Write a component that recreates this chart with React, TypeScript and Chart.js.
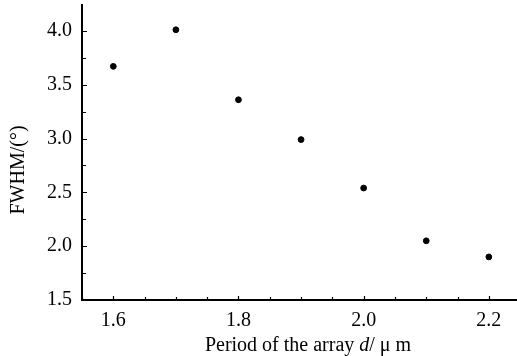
import React, { useEffect, useRef } from "react";
import { Chart, registerables } from "chart.js";

Chart.register(...registerables);

const periods = [1.6, 1.7, 1.8, 1.9, 2.0, 2.1, 2.2];
const fwhm = [3.67, 4.01, 3.36, 2.99, 2.54, 2.05, 1.9];
const xLabelTicks = [1.6, 1.8, 2.0, 2.2];
const yLabelTicks = [1.5, 2.0, 2.5, 3.0, 3.5, 4.0];
const xMinorStep = 0.05;
const yMinorStep = 0.25;
const xRange = [1.55, 2.245];
const yRange = [1.5, 4.24];
const yTitle = "FWHM/(°)";
const xTitleParts = [
  { text: "Period of the array ", italic: false },
  { text: "d", italic: true },
  { text: "/ μ m", italic: false },
];

const FONT = '"Liberation Serif", "Times New Roman", serif';

function isLabel(v: number, list: number[]) {
  return list.some((l) => Math.abs(l - v) < 1e-6);
}

function stepTicks(min: number, max: number, step: number) {
  const out: { value: number }[] = [];
  const start = Math.ceil(min / step - 1e-6);
  const end = Math.floor(max / step + 1e-6);
  for (let i = start; i <= end; i++) out.push({ value: Math.round(i * step * 1000) / 1000 });
  return out;
}

const tickPlugin = {
  id: "inwardTicks",
  afterDatasetsDraw(chart: any) {
    const { ctx, chartArea, scales } = chart;
    ctx.save();
    ctx.strokeStyle = "#000";
    ctx.lineWidth = 1.2;
    ctx.beginPath();
    for (const t of scales.x.ticks) {
      const px = Math.round(scales.x.getPixelForValue(t.value)) + 0.5;
      const len = isLabel(t.value, xLabelTicks) ? 4 : 3;
      ctx.moveTo(px, chartArea.bottom);
      ctx.lineTo(px, chartArea.bottom - len);
    }
    for (const t of scales.y.ticks) {
      const py = Math.round(scales.y.getPixelForValue(t.value)) + 0.5;
      const len = isLabel(t.value, yLabelTicks) ? 5 : 4;
      ctx.moveTo(chartArea.left, py);
      ctx.lineTo(chartArea.left + len, py);
    }
    ctx.stroke();

    // y title
    ctx.fillStyle = "#000";
    ctx.font = `20px ${FONT}`;
    ctx.textAlign = "center";
    ctx.textBaseline = "middle";
    ctx.save();
    ctx.translate(19, 170);
    ctx.rotate(-Math.PI / 2);
    ctx.fillText(yTitle, 0, 0);
    ctx.restore();

    // x title with italic part
    ctx.textAlign = "left";
    ctx.textBaseline = "alphabetic";
    let total = 0;
    const widths = xTitleParts.map((p) => {
      ctx.font = `${p.italic ? "italic " : ""}20px ${FONT}`;
      const w = ctx.measureText(p.text).width;
      total += w;
      return w;
    });
    let x = 308 - total / 2;
    xTitleParts.forEach((p, i) => {
      ctx.font = `${p.italic ? "italic " : ""}20px ${FONT}`;
      ctx.fillText(p.text, x, 351);
      x += widths[i];
    });
    ctx.restore();
  },
};

export default function App() {
  const ref = useRef<HTMLCanvasElement | null>(null);
  useEffect(() => {
    if (!ref.current) return;
    const chart = new Chart(ref.current, {
      type: "scatter",
      data: {
        datasets: [
          {
            data: periods.map((p, i) => ({ x: p, y: fwhm[i] })),
            backgroundColor: "#000",
            borderColor: "#000",
            pointRadius: 2.9,
            pointStyle: "circle",
          },
        ],
      },
      options: {
        animation: false,
        responsive: false,
        maintainAspectRatio: false,
        layout: { autoPadding: false, padding: { top: 5, right: 0, left: 0, bottom: 0 } },
        plugins: { legend: { display: false }, tooltip: { enabled: false } },
        scales: {
          x: {
            type: "linear",
            min: xRange[0],
            max: xRange[1],
            afterBuildTicks: (s: any) => {
              s.ticks = stepTicks(xRange[0], xRange[1], xMinorStep);
            },
            afterFit: (s: any) => {
              s.height = 56;
              s.paddingLeft = 0;
              s.paddingRight = 0;
            },
            grid: { display: false },
            border: { display: true, color: "#000", width: 2 },
            ticks: {
              autoSkip: false,
              maxRotation: 0,
              padding: 1,
              color: "#000",
              font: { family: FONT, size: 20 },
              callback: (v: any) => (isLabel(Number(v), xLabelTicks) ? Number(v).toFixed(1) : ""),
            },
          },
          y: {
            type: "linear",
            min: yRange[0],
            max: yRange[1],
            afterBuildTicks: (s: any) => {
              s.ticks = stepTicks(yRange[0], yRange[1], yMinorStep);
            },
            afterFit: (s: any) => {
              s.width = 82;
              s.paddingTop = 0;
              s.paddingBottom = 0;
            },
            grid: { display: false },
            border: { display: true, color: "#000", width: 2 },
            ticks: {
              autoSkip: false,
              padding: 2,
              color: "#000",
              font: { family: FONT, size: 20 },
              callback: (v: any) => (isLabel(Number(v), yLabelTicks) ? Number(v).toFixed(1) : ""),
            },
          },
        },
      },
      plugins: [tickPlugin],
    });
    return () => chart.destroy();
  }, []);
  return (
    <div style={{ position: "fixed", left: 0, top: 0, width: 517, height: 356, background: "#fff" }}>
      <canvas ref={ref} width={517} height={356} style={{ display: "block" }} />
    </div>
  );
}
